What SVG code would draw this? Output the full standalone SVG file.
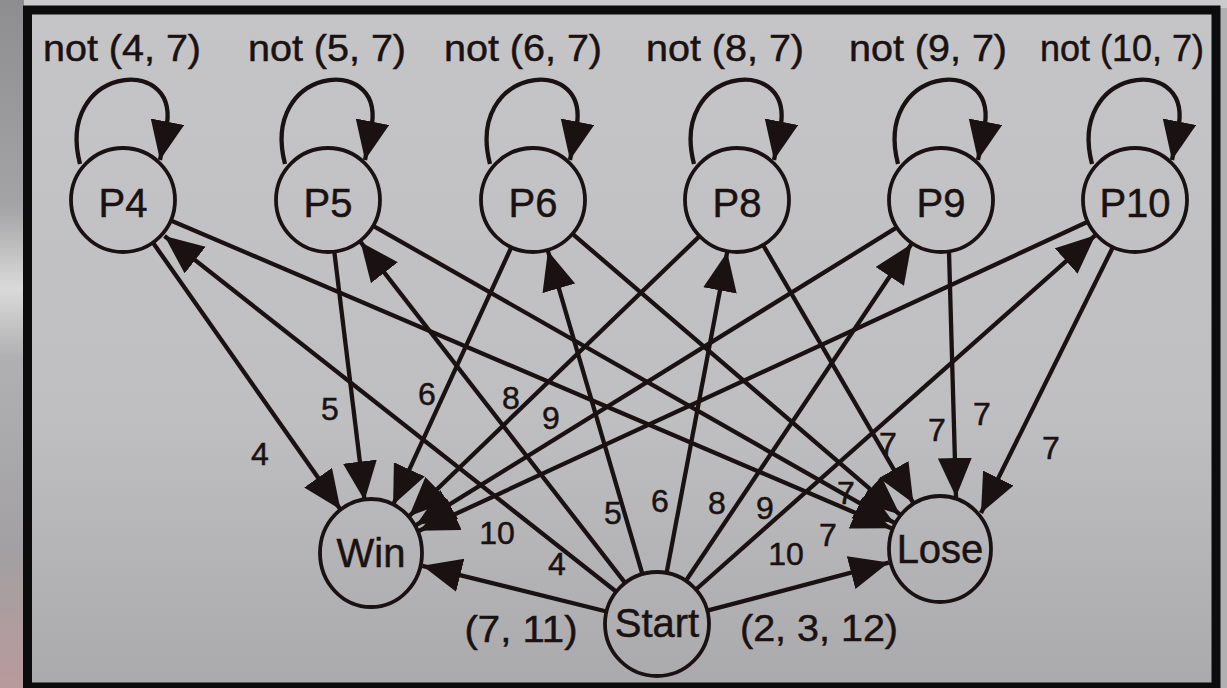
<svg xmlns="http://www.w3.org/2000/svg" width="1227" height="688" viewBox="0 0 1227 688">
  <style>
    .ln { stroke: #1a1212; stroke-width: 4.3; fill: none; }
    .arr { marker-end: url(#ah); }
    .nd { stroke: #1a1212; stroke-width: 3.8; fill: none; }
    .nl { font-family: "Liberation Sans", Arial, Helvetica, sans-serif; font-size: 40px; fill: #1a1212; stroke: #1a1212; stroke-width: 0.5; text-anchor: middle; }
    .el { font-family: "Liberation Sans", Arial, Helvetica, sans-serif; font-size: 32px; fill: #1a1212; stroke: #1a1212; stroke-width: 0.5; text-anchor: middle; }
    .tl { font-family: "Liberation Sans", Arial, Helvetica, sans-serif; font-size: 36px; fill: #1a1212; stroke: #1a1212; stroke-width: 0.5; text-anchor: middle; }
  </style>
  <defs>
    <marker id="ah" markerUnits="userSpaceOnUse" viewBox="0 0 42 36" markerWidth="42" markerHeight="36" refX="39" refY="17" orient="auto">
      <path d="M0,0 L39,17 L0,34 Z" fill="#1a1212"/>
    </marker>
    <linearGradient id="panel" x1="0" y1="0" x2="0" y2="1">
      <stop offset="0" stop-color="#c5c5c7"/>
      <stop offset="0.6" stop-color="#bfbfc1"/>
      <stop offset="1" stop-color="#aaaaac"/>
    </linearGradient>
    <linearGradient id="side" x1="0" y1="0" x2="0" y2="1">
      <stop offset="0" stop-color="#8e8e90"/>
      <stop offset="0.3" stop-color="#a4a4a6"/>
      <stop offset="0.42" stop-color="#dadada"/>
      <stop offset="0.52" stop-color="#b0b0b2"/>
      <stop offset="0.8" stop-color="#a2a0a2"/>
      <stop offset="1" stop-color="#b89a9c"/>
    </linearGradient>
  </defs>

  <!-- surround and panel -->
  <rect x="0" y="0" width="1227" height="688" fill="#b0b0b2"/>
  <rect x="0" y="0" width="1227" height="8" fill="#cbcbcd"/>
  <rect x="0" y="0" width="24" height="688" fill="url(#side)"/>
  <rect x="27.5" y="10" width="1188.5" height="677" fill="url(#panel)" stroke="#0c0c0c" stroke-width="9"/>

  <g id="connectors">
    <!-- self loops: rise from the upper left of each node, drop back onto its upper right -->
    <path class="ln arr" d="M80,164 C55,68 177,53 167,124 L160,160"/>
    <path class="ln arr" d="M285,164 C260,68 382,53 372,124 L365,160"/>
    <path class="ln arr" d="M490,164 C465,68 587,53 577,124 L570,160"/>
    <path class="ln arr" d="M694,164 C669,68 791,53 781,124 L774,160"/>
    <path class="ln arr" d="M898,164 C873,68 995,53 985,124 L978,160"/>
    <path class="ln arr" d="M1092,164 C1067,68 1189,53 1179,124 L1172,160"/>

    <!-- P nodes to Win -->
    <line class="ln arr" x1="152.9" y1="242.6" x2="340.5" y2="509.6"/>
    <line class="ln arr" x1="334.3" y1="251.6" x2="364.6" y2="500.4"/>
    <line class="ln arr" x1="511.3" y1="247.3" x2="393.1" y2="504.8"/>
    <line class="ln arr" x1="699.6" y1="236.1" x2="409.1" y2="516.2"/>
    <line class="ln arr" x1="896.8" y1="227.4" x2="416.1" y2="525.1"/>
    <line class="ln arr" x1="1087.8" y1="221.8" x2="419.1" y2="530.8"/>

    <!-- P nodes to Lose -->
    <line class="ln arr" x1="170.8" y1="220.4" x2="891.3" y2="528.2"/>
    <line class="ln arr" x1="373.2" y1="225.8" x2="894" y2="522.7"/>
    <line class="ln arr" x1="572.5" y1="233.9" x2="899.8" y2="514.5"/>
    <line class="ln arr" x1="763.1" y1="245" x2="913.4" y2="503.2"/>
    <line class="ln arr" x1="949" y1="252" x2="956" y2="497"/>
    <line class="ln arr" x1="1113" y1="247" x2="981" y2="513"/>

    <!-- Start to Win / Lose -->
    <line class="ln arr" x1="606.5" y1="611.5" x2="422.4" y2="565.8"/>
    <line class="ln arr" x1="707.3" y1="610.7" x2="888.8" y2="562.6"/>

    <!-- Start to P nodes -->
    <line class="ln arr" x1="616.3" y1="591.7" x2="164.5" y2="236"/>
    <line class="ln arr" x1="625.1" y1="582.9" x2="360.5" y2="241.9"/>
    <line class="ln arr" x1="642.4" y1="574.1" x2="547.9" y2="250.9"/>
    <line class="ln arr" x1="666.6" y1="572.9" x2="727.2" y2="252.1"/>
    <line class="ln arr" x1="685.9" y1="580.8" x2="911.5" y2="244"/>
    <line class="ln arr" x1="695.9" y1="589.5" x2="1095.4" y2="235.2"/>

    <!-- loop labels -->
    <text class="tl" x="122" y="61" textLength="158" lengthAdjust="spacingAndGlyphs">not (4, 7)</text>
    <text class="tl" x="327" y="61" textLength="158" lengthAdjust="spacingAndGlyphs">not (5, 7)</text>
    <text class="tl" x="523" y="61" textLength="158" lengthAdjust="spacingAndGlyphs">not (6, 7)</text>
    <text class="tl" x="725" y="61" textLength="158" lengthAdjust="spacingAndGlyphs">not (8, 7)</text>
    <text class="tl" x="928" y="61" textLength="158" lengthAdjust="spacingAndGlyphs">not (9, 7)</text>
    <text class="tl" x="1122" y="61" textLength="164" lengthAdjust="spacingAndGlyphs">not (10, 7)</text>

    <!-- edge labels -->
    <text class="el" x="260" y="465">4</text>
    <text class="el" x="330" y="420">5</text>
    <text class="el" x="427" y="405">6</text>
    <text class="el" x="511" y="409">8</text>
    <text class="el" x="551" y="429">9</text>
    <text class="el" x="497" y="544">10</text>

    <text class="el" x="557" y="575">4</text>
    <text class="el" x="613" y="524">5</text>
    <text class="el" x="660" y="512">6</text>
    <text class="el" x="717" y="514">8</text>
    <text class="el" x="765" y="519">9</text>
    <text class="el" x="786" y="565">10</text>

    <text class="el" x="828" y="546">7</text>
    <text class="el" x="846" y="504">7</text>
    <text class="el" x="888" y="455">7</text>
    <text class="el" x="937" y="441">7</text>
    <text class="el" x="982" y="425">7</text>
    <text class="el" x="1051" y="459">7</text>

    <text class="tl" x="521" y="642" textLength="113" lengthAdjust="spacingAndGlyphs">(7, 11)</text>
    <text class="tl" x="819" y="641" textLength="158" lengthAdjust="spacingAndGlyphs">(2, 3, 12)</text>
  </g>

  <g id="node-P4"><circle class="nd" cx="123" cy="200" r="52"/><text class="nl" x="123" y="217">P4</text></g>
  <g id="node-P5"><circle class="nd" cx="328" cy="200" r="52"/><text class="nl" x="328" y="217">P5</text></g>
  <g id="node-P6"><circle class="nd" cx="533" cy="200" r="52"/><text class="nl" x="533" y="217">P6</text></g>
  <g id="node-P8"><circle class="nd" cx="737" cy="200" r="52"/><text class="nl" x="737" y="217">P8</text></g>
  <g id="node-P9"><circle class="nd" cx="941" cy="200" r="52"/><text class="nl" x="941" y="217">P9</text></g>
  <g id="node-P10"><circle class="nd" cx="1135" cy="200" r="52"/><text class="nl" x="1135" y="217">P10</text></g>
  <g id="node-Win"><ellipse class="nd" cx="371" cy="553" rx="51" ry="54"/><text class="nl" x="371" y="567">Win</text></g>
  <g id="node-Lose"><ellipse class="nd" cx="940" cy="549" rx="51" ry="53"/><text class="nl" x="940" y="563">Lose</text></g>
  <g id="node-Start"><circle class="nd" cx="657" cy="624" r="52"/><text class="nl" x="657" y="637">Start</text></g>
</svg>
